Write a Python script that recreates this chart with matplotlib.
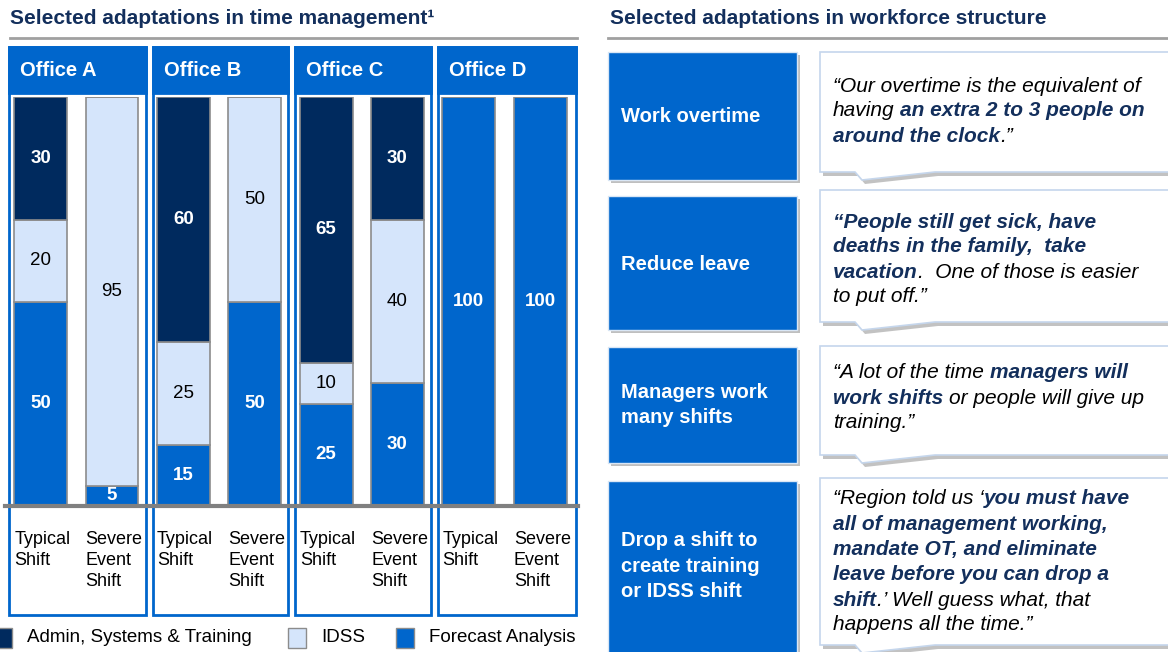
import numpy as np
import matplotlib.pyplot as plt
from matplotlib.patches import Rectangle, Polygon

plt.rcParams['font.family'] = ['Liberation Sans', 'DejaVu Sans']

# ---- data ----
offices = ['Office A', 'Office B', 'Office C', 'Office D']
shift_labels = ['Typical\nShift', 'Severe\nEvent\nShift'] * 4
forecast = [50, 5, 15, 50, 25, 30, 100, 100]
idss = [20, 95, 25, 50, 10, 40, 0, 0]
admin = [30, 0, 60, 0, 65, 30, 0, 0]
series_names = ['Admin, Systems & Training', 'IDSS', 'Forecast Analysis']

adaptations = ['Work overtime', 'Reduce leave', 'Managers work\nmany shifts',
               'Drop a shift to\ncreate training\nor IDSS shift']
quotes = [
    [[('\u201cOur overtime is the equivalent of', 0)],
     [('having', 0), (' an extra 2 to 3 people on', 1)],
     [('around the clock', 1), ('.\u201d', 0)]],
    [[('\u201cPeople still get sick, have', 1)],
     [('deaths in the family,  take', 1)],
     [('vacation', 1), ('.  One of those is easier', 0)],
     [('to put off.\u201d', 0)]],
    [[('\u201cA lot of the time', 0), (' managers will', 1)],
     [('work shifts', 1), (' or people will give up', 0)],
     [('training.\u201d', 0)]],
    [[('\u201cRegion told us \u2018', 0), ('you must have', 1)],
     [('all of management working,', 1)],
     [('mandate OT, and eliminate', 1)],
     [('leave before you can drop a', 1)],
     [('shift', 1), ('.\u2019 Well guess what, that', 0)],
     [('happens all the time.\u201d', 0)]],
]

NAVY = '#002A5E'
IDSS_C = '#D5E5FB'
BLUE = '#0066CC'
TITLE_C = '#132F5C'
GRAY = '#A0A0A0'

fig = plt.figure(figsize=(11.68, 6.52), dpi=100)
bg = fig.add_axes([0, 0, 1, 1])
bg.set_xlim(0, 1168)
bg.set_ylim(652, 0)
bg.axis('off')

# titles
bg.text(10, 19, 'Selected adaptations in time management\u00b9', fontsize=15,
        fontweight='bold', color=TITLE_C, va='center', ha='left')
bg.plot([10, 577], [38, 38], color=GRAY, lw=2)
bg.text(610, 19, 'Selected adaptations in workforce structure', fontsize=15,
        fontweight='bold', color=TITLE_C, va='center', ha='left')
bg.plot([608, 1168], [38, 38], color=GRAY, lw=2)

# office frames
frames = [(9, 146), (153, 288), (295, 431), (438, 576)]
for (x0, x1), name in zip(frames, offices):
    bg.add_patch(Rectangle((x0, 47), x1 - x0, 568, fill=False, ec=BLUE, lw=2))
    bg.add_patch(Rectangle((x0, 47), x1 - x0, 46, fc=BLUE, ec=BLUE, lw=2))
    bg.text(x0 + 11, 71, name, fontsize=14.5, fontweight='bold', color='white',
            va='center', ha='left')

# stacked bars
ax = fig.add_axes([5 / 1168, (652 - 506) / 652, 573 / 1168, (506 - 97) / 652])
ax.patch.set_visible(False)
x = np.arange(len(forecast))
w = 0.74
ec = '#8C8C8C'
f = np.array(forecast)
i_ = np.array(idss)
a = np.array(admin)
ax.bar(x, f, w, color=BLUE, edgecolor=ec, lw=1.2)
ax.bar(x, i_, w, bottom=f, color=IDSS_C, edgecolor=ec, lw=1.2)
ax.bar(x, a, w, bottom=f + i_, color=NAVY, edgecolor=ec, lw=1.2)
ax.set_xlim(-0.5, 7.53)
ax.set_ylim(0, 100)
ax.axis('off')
ax.axhline(0, color='#808080', lw=3, clip_on=False)
for k in range(len(x)):
    for val, base, dark in [(f[k], 0, True), (i_[k], f[k], False), (a[k], f[k] + i_[k], True)]:
        if val <= 0:
            continue
        ax.text(x[k], base + val / 2, str(val), ha='center', va='center', fontsize=13.5,
                color='white' if dark else 'black', fontweight='bold' if dark else 'normal')
    ax.text(x[k] - w / 2, -6.0, shift_labels[k], ha='left', va='top', fontsize=13,
            linespacing=1.34, clip_on=False)

# legend
leg = [(-6, NAVY), (288, IDSS_C), (396, BLUE)]
for (lx, c), name in zip(leg, series_names):
    bg.add_patch(Rectangle((lx, 628), 18, 20, fc=c, ec='#8C8C8C', lw=1))
    bg.text(lx + 33 if lx > 0 else 27, 638, name, fontsize=13.5, va='center', ha='left')

# right panel: adaptation boxes
boxes = [(52, 180), (196, 330), (347, 463), (481, 660)]
label_y = [116, 264, 405, 566]
for (y0, y1), lab, ly in zip(boxes, adaptations, label_y):
    bg.add_patch(Rectangle((611, y0 + 3), 189, y1 - y0, fc='#BFBFBF', ec='none'))
    bg.add_patch(Rectangle((608, y0), 189, y1 - y0, fc=BLUE, ec='#D9E6F5', lw=1))
    bg.text(621, ly, lab, fontsize=14.5, fontweight='bold', color='white',
            va='center', ha='left', linespacing=1.43)

# quote bubbles
qboxes = [(52, 172), (190, 322), (346, 455), (478, 645)]
line_ys = [[86, 111, 136], [222, 247, 272, 297], [373, 398, 423],
           [499, 524, 549, 574, 600, 625]]
fs_q = 15
for (y0, y1), q, ys in zip(qboxes, quotes, line_ys):
    pts = [(820, y0), (1175, y0), (1175, y1), (935, y1), (862, y1 + 8), (855, y1), (820, y1)]
    sh = [(px + 3, py + 4) for px, py in pts]
    bg.add_patch(Polygon(sh, closed=True, fc='#9A9A9A', ec='none', alpha=0.6))
    bg.add_patch(Polygon(pts, closed=True, fc='white', ec='#C5D6EC', lw=1.2))
    for line, ly in zip(q, ys):
        prev = None
        for seg, bold in line:
            gap = 0.278 * fs_q if seg.startswith(' ') else 0
            kw = dict(fontsize=fs_q, style='italic',
                      fontweight='bold' if bold else 'normal',
                      color=TITLE_C if bold else 'black')
            if prev is None:
                prev = bg.text(833, ly, seg.strip(), va='center', ha='left', **kw)
            else:
                prev = bg.annotate(seg.strip(), xy=(1, 0), xycoords=prev,
                                   xytext=(gap, 0), textcoords='offset points',
                                   va='bottom', ha='left', **kw)

fig.savefig('out.png', dpi=100)
